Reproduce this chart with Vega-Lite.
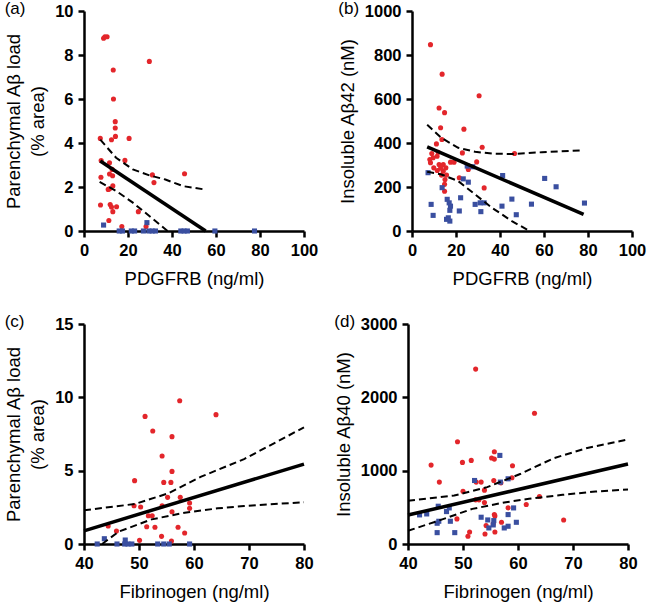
{
  "$schema": "https://vega.github.io/schema/vega-lite/v6.json",
  "padding": {"left": 4, "top": 0, "right": 5, "bottom": 5},
  "background": "white",
  "datasets": {
    "a_pts": [
      {"g":"red","x":8.9,"y":8.76},{"g":"red","x":9.5,"y":8.83},{"g":"red","x":10.5,"y":8.83},{"g":"red","x":29.7,"y":7.71},
      {"g":"red","x":13.3,"y":7.32},{"g":"red","x":13.4,"y":6.0},{"g":"red","x":14.2,"y":4.97},{"g":"red","x":14.2,"y":4.68},
      {"g":"red","x":14.3,"y":4.3},{"g":"red","x":12.5,"y":4.15},{"g":"red","x":7.4,"y":4.21},{"g":"red","x":20.5,"y":4.21},
      {"g":"red","x":7.8,"y":3.2},{"g":"red","x":18.6,"y":3.21},{"g":"red","x":11.6,"y":3.1},{"g":"red","x":12.8,"y":2.8},
      {"g":"red","x":11.6,"y":2.59},{"g":"red","x":13.0,"y":2.51},{"g":"red","x":31.1,"y":2.55},{"g":"red","x":45.7,"y":2.6},
      {"g":"red","x":31.8,"y":2.2},{"g":"red","x":7.7,"y":2.44},{"g":"red","x":13.1,"y":2.05},{"g":"red","x":11.6,"y":1.92},
      {"g":"red","x":11.0,"y":1.89},{"g":"red","x":7.5,"y":1.18},{"g":"red","x":11.9,"y":1.2},{"g":"red","x":12.5,"y":1.09},
      {"g":"red","x":14.8,"y":1.1},{"g":"red","x":13.1,"y":0.88},{"g":"red","x":24.7,"y":0.88},{"g":"red","x":11.3,"y":0.48},
      {"g":"red","x":17.2,"y":0.2},{"g":"red","x":28.2,"y":0.2},
      {"g":"blue","x":8.9,"y":0.27},{"g":"blue","x":28.6,"y":0.38},{"g":"blue","x":16,"y":0},{"g":"blue","x":17.5,"y":0},
      {"g":"blue","x":21.5,"y":0},{"g":"blue","x":23,"y":0},{"g":"blue","x":27,"y":0},{"g":"blue","x":29.5,"y":0},
      {"g":"blue","x":31,"y":0},{"g":"blue","x":32.5,"y":0},{"g":"blue","x":44,"y":0},{"g":"blue","x":45.5,"y":0},
      {"g":"blue","x":47,"y":0},{"g":"blue","x":59.5,"y":0},{"g":"blue","x":77.5,"y":0}
    ],
    "a_lines": [
      {"s":"fit","x":7.4,"y":3.18},{"s":"fit","x":55.3,"y":0},
      {"s":"upper","x":7.4,"y":4.15},{"s":"upper","x":14.6,"y":3.33},{"s":"upper","x":22.2,"y":2.8},{"s":"upper","x":29.7,"y":2.53},
      {"s":"upper","x":37,"y":2.34},{"s":"upper","x":45,"y":2.04},{"s":"upper","x":54.7,"y":1.89},
      {"s":"lower","x":7.1,"y":2.23},{"s":"lower","x":14.6,"y":1.82},{"s":"lower","x":22.2,"y":1.29},{"s":"lower","x":29.7,"y":0.68},
      {"s":"lower","x":38,"y":0}
    ],
    "b_pts": [
      {"g":"red","x":8.4,"y":847},{"g":"red","x":13.7,"y":713},{"g":"red","x":30.5,"y":615},{"g":"red","x":12.3,"y":559},
      {"g":"red","x":14.8,"y":538},{"g":"red","x":13.0,"y":469},{"g":"red","x":23.6,"y":463},{"g":"red","x":13.6,"y":416},
      {"g":"red","x":11.1,"y":396},{"g":"red","x":31.9,"y":381},{"g":"red","x":22.9,"y":355},{"g":"red","x":9.0,"y":352},
      {"g":"red","x":11.9,"y":358},{"g":"red","x":9.6,"y":333},{"g":"red","x":11.4,"y":340},{"g":"red","x":8.1,"y":325},
      {"g":"red","x":8.4,"y":310},{"g":"red","x":12.3,"y":302},{"g":"red","x":14.2,"y":302},{"g":"red","x":15.4,"y":287},
      {"g":"red","x":9.9,"y":287},{"g":"red","x":17.5,"y":313},{"g":"red","x":19.1,"y":313},{"g":"red","x":29.4,"y":314},
      {"g":"red","x":13.4,"y":254},{"g":"red","x":15.7,"y":254},{"g":"red","x":14.2,"y":272},{"g":"red","x":15.0,"y":234},
      {"g":"red","x":14.8,"y":212},{"g":"red","x":14.8,"y":181},{"g":"red","x":21.5,"y":242},{"g":"red","x":32.8,"y":196},
      {"g":"red","x":46.6,"y":352},{"g":"red","x":25.6,"y":280},{"g":"red","x":11.5,"y":275},{"g":"red","x":13.0,"y":285},
      {"g":"blue","x":7.3,"y":265},{"g":"blue","x":13.7,"y":197},{"g":"blue","x":25.1,"y":295},{"g":"blue","x":27.6,"y":292},
      {"g":"blue","x":23.3,"y":237},{"g":"blue","x":25.6,"y":222},{"g":"blue","x":16.0,"y":144},{"g":"blue","x":16.9,"y":128},
      {"g":"blue","x":17.5,"y":113},{"g":"blue","x":17.2,"y":94},{"g":"blue","x":15.7,"y":53},{"g":"blue","x":17.2,"y":45},
      {"g":"blue","x":8.7,"y":121},{"g":"blue","x":9.6,"y":71},{"g":"blue","x":22.1,"y":151},{"g":"blue","x":21.5,"y":91},
      {"g":"blue","x":28.7,"y":121},{"g":"blue","x":31.0,"y":128},{"g":"blue","x":32.8,"y":128},{"g":"blue","x":31.3,"y":88},
      {"g":"blue","x":41.2,"y":252},{"g":"blue","x":45.4,"y":145},{"g":"blue","x":40.9,"y":113},{"g":"blue","x":47.4,"y":74},
      {"g":"blue","x":54.3,"y":122},{"g":"blue","x":60.3,"y":239},{"g":"blue","x":65.5,"y":201},{"g":"blue","x":78.4,"y":127},
      {"g":"blue","x":16.5,"y":60}
    ],
    "b_lines": [
      {"s":"fit","x":6.9,"y":382},{"s":"fit","x":78,"y":76},
      {"s":"upper","x":6.9,"y":483},{"s":"upper","x":13.4,"y":423},{"s":"upper","x":21,"y":378},{"s":"upper","x":28.7,"y":360},
      {"s":"upper","x":36.3,"y":352},{"s":"upper","x":45.4,"y":350},{"s":"upper","x":59.1,"y":358},{"s":"upper","x":77.4,"y":367},
      {"s":"lower","x":6.9,"y":269},{"s":"lower","x":13.4,"y":257},{"s":"lower","x":21,"y":227},{"s":"lower","x":28.7,"y":166},
      {"s":"lower","x":36.3,"y":106},{"s":"lower","x":45.4,"y":45},{"s":"lower","x":53.4,"y":0}
    ],
    "c_pts": [
      {"g":"red","x":57.4,"y":9.77},{"g":"red","x":51.1,"y":8.70},{"g":"red","x":64.0,"y":8.82},{"g":"red","x":52.5,"y":7.70},
      {"g":"red","x":56.0,"y":7.32},{"g":"red","x":54.2,"y":6.0},{"g":"red","x":56.0,"y":4.95},{"g":"red","x":49.2,"y":4.32},
      {"g":"red","x":54.5,"y":4.2},{"g":"red","x":55.8,"y":4.2},{"g":"red","x":57.5,"y":3.18},{"g":"red","x":55.2,"y":3.18},
      {"g":"red","x":49.1,"y":2.61},{"g":"red","x":50.3,"y":2.52},{"g":"red","x":54.2,"y":2.61},{"g":"red","x":59.2,"y":2.8},
      {"g":"red","x":59.2,"y":2.43},{"g":"red","x":51.7,"y":1.93},{"g":"red","x":52.4,"y":1.93},{"g":"red","x":56.0,"y":2.2},
      {"g":"red","x":44.4,"y":1.23},{"g":"red","x":51.4,"y":1.18},{"g":"red","x":52.9,"y":1.14},{"g":"red","x":57.1,"y":1.14},
      {"g":"red","x":58.3,"y":0.75},{"g":"red","x":45.9,"y":0.89},{"g":"red","x":54.1,"y":0.52},{"g":"red","x":50.1,"y":0.25},
      {"g":"red","x":55.9,"y":0.2},
      {"g":"blue","x":42.4,"y":0},{"g":"blue","x":46.0,"y":0},{"g":"blue","x":47.4,"y":0},{"g":"blue","x":48.0,"y":0},
      {"g":"blue","x":48.7,"y":0},{"g":"blue","x":53.4,"y":0},{"g":"blue","x":54.5,"y":0},{"g":"blue","x":55.5,"y":0},
      {"g":"blue","x":59.2,"y":0},{"g":"blue","x":43.7,"y":0.36},{"g":"blue","x":47.5,"y":0.27}
    ],
    "c_lines": [
      {"s":"fit","x":40,"y":0.9},{"s":"fit","x":80,"y":5.45},
      {"s":"upper","x":40,"y":2.3},{"s":"upper","x":49.3,"y":2.73},{"s":"upper","x":55.3,"y":3.45},{"s":"upper","x":61.3,"y":4.59},
      {"s":"upper","x":69.1,"y":5.79},{"s":"upper","x":80,"y":7.95},
      {"s":"lower","x":43.3,"y":0},{"s":"lower","x":46.3,"y":0.84},{"s":"lower","x":52.3,"y":1.68},{"s":"lower","x":58.3,"y":2.13},
      {"s":"lower","x":64.3,"y":2.43},{"s":"lower","x":69.1,"y":2.59},{"s":"lower","x":80,"y":2.85}
    ],
    "d_pts": [
      {"g":"red","x":52.3,"y":2385},{"g":"red","x":63.0,"y":1783},{"g":"red","x":49.0,"y":1395},{"g":"red","x":55.7,"y":1258},
      {"g":"red","x":44.2,"y":1076},{"g":"red","x":49.9,"y":1113},{"g":"red","x":51.5,"y":1140},{"g":"red","x":55.2,"y":1172},
      {"g":"red","x":55.7,"y":1158},{"g":"red","x":59.0,"y":1067},{"g":"red","x":45.7,"y":844},{"g":"red","x":52.4,"y":844},
      {"g":"red","x":53.3,"y":844},{"g":"red","x":55.6,"y":866},{"g":"red","x":56.9,"y":834},{"g":"red","x":58.9,"y":903},
      {"g":"red","x":50.0,"y":720},{"g":"red","x":53.9,"y":734},{"g":"red","x":52.3,"y":602},{"g":"red","x":52.9,"y":602},
      {"g":"red","x":53.9,"y":565},{"g":"red","x":58.2,"y":492},{"g":"red","x":61.5,"y":538},{"g":"red","x":63.9,"y":648},
      {"g":"red","x":68.3,"y":328},{"g":"red","x":48.9,"y":342},{"g":"red","x":55.7,"y":401},{"g":"red","x":55.8,"y":383},
      {"g":"red","x":54.2,"y":251},{"g":"red","x":55.5,"y":274},{"g":"red","x":57.0,"y":296},{"g":"red","x":55.8,"y":164},
      {"g":"red","x":51.2,"y":164},{"g":"red","x":50.9,"y":105},{"g":"red","x":54.0,"y":137},
      {"g":"blue","x":42.1,"y":397},{"g":"blue","x":43.4,"y":410},{"g":"blue","x":45.5,"y":515},{"g":"blue","x":45.3,"y":283},
      {"g":"blue","x":45.6,"y":310},{"g":"blue","x":45.3,"y":155},{"g":"blue","x":47.7,"y":310},{"g":"blue","x":47.0,"y":442},
      {"g":"blue","x":47.5,"y":492},{"g":"blue","x":48.5,"y":155},{"g":"blue","x":52.1,"y":866},{"g":"blue","x":53.3,"y":365},
      {"g":"blue","x":54.5,"y":328},{"g":"blue","x":54.7,"y":219},{"g":"blue","x":55.5,"y":260},{"g":"blue","x":55.6,"y":319},
      {"g":"blue","x":56.7,"y":1208},{"g":"blue","x":56.8,"y":844},{"g":"blue","x":58.2,"y":889},{"g":"blue","x":58.2,"y":401},
      {"g":"blue","x":57.5,"y":219},{"g":"blue","x":58.2,"y":242},{"g":"blue","x":59.2,"y":492},{"g":"blue","x":59.7,"y":296}
    ],
    "d_lines": [
      {"s":"fit","x":40,"y":395},{"s":"fit","x":80,"y":1090},
      {"s":"upper","x":40,"y":590},{"s":"upper","x":48.4,"y":661},{"s":"upper","x":54.4,"y":775},{"s":"upper","x":60.5,"y":958},
      {"s":"upper","x":66.5,"y":1170},{"s":"upper","x":72.6,"y":1310},{"s":"upper","x":80,"y":1425},
      {"s":"lower","x":40,"y":180},{"s":"lower","x":45.6,"y":319},{"s":"lower","x":51.7,"y":479},{"s":"lower","x":57.8,"y":570},
      {"s":"lower","x":62,"y":616},{"s":"lower","x":68.1,"y":670},{"s":"lower","x":74.1,"y":715},{"s":"lower","x":80,"y":743}
    ]
  },
  "vconcat": [
    {
      "hconcat": [
        {
          "width": 220, "height": 220,
          "title": {"text": "(a)", "dy": 19},
          "layer": [
            {"data": {"name": "a_pts"}, "mark": {"type": "point", "filled": true, "opacity": 1, "size": 26},
             "encoding": {
               "x": {"field": "x", "type": "quantitative", "scale": {"domain": [0, 100], "nice": false}, "axis": {"values": [0, 20, 40, 60, 80, 100], "title": "PDGFRB (ng/ml)"}},
               "y": {"field": "y", "type": "quantitative", "scale": {"domain": [0, 10], "nice": false}, "axis": {"values": [0, 2, 4, 6, 8, 10], "title": ["Parenchymal Aβ load", "(% area)"]}},
               "color": {"field": "g", "type": "nominal", "scale": {"domain": ["red", "blue"], "range": ["#e3262b", "#3a4fa0"]}, "legend": null},
               "shape": {"field": "g", "type": "nominal", "scale": {"domain": ["red", "blue"], "range": ["circle", "square"]}, "legend": null}}},
            {"data": {"name": "a_lines"}, "transform": [{"filter": "datum.s == 'fit'"}], "mark": {"type": "line", "color": "black", "strokeWidth": 3.5},
             "encoding": {"x": {"field": "x", "type": "quantitative"}, "y": {"field": "y", "type": "quantitative"}}},
            {"data": {"name": "a_lines"}, "transform": [{"filter": "datum.s != 'fit'"}], "mark": {"type": "line", "color": "black", "strokeWidth": 2, "strokeDash": [7, 4]},
             "encoding": {"x": {"field": "x", "type": "quantitative"}, "y": {"field": "y", "type": "quantitative"}, "detail": {"field": "s"}}}
          ]
        },
        {
          "width": 220, "height": 220,
          "title": {"text": "(b)", "dy": 19},
          "layer": [
            {"data": {"name": "b_pts"}, "mark": {"type": "point", "filled": true, "opacity": 1, "size": 26},
             "encoding": {
               "x": {"field": "x", "type": "quantitative", "scale": {"domain": [0, 100], "nice": false}, "axis": {"values": [0, 20, 40, 60, 80, 100], "title": "PDGFRB (ng/ml)"}},
               "y": {"field": "y", "type": "quantitative", "scale": {"domain": [0, 1000], "nice": false}, "axis": {"values": [0, 200, 400, 600, 800, 1000], "title": "Insoluble Aβ42 (nM)", "format": "d"}},
               "color": {"field": "g", "type": "nominal", "scale": {"domain": ["red", "blue"], "range": ["#e3262b", "#3a4fa0"]}, "legend": null},
               "shape": {"field": "g", "type": "nominal", "scale": {"domain": ["red", "blue"], "range": ["circle", "square"]}, "legend": null}}},
            {"data": {"name": "b_lines"}, "transform": [{"filter": "datum.s == 'fit'"}], "mark": {"type": "line", "color": "black", "strokeWidth": 3.5},
             "encoding": {"x": {"field": "x", "type": "quantitative"}, "y": {"field": "y", "type": "quantitative"}}},
            {"data": {"name": "b_lines"}, "transform": [{"filter": "datum.s != 'fit'"}], "mark": {"type": "line", "color": "black", "strokeWidth": 2, "strokeDash": [7, 4]},
             "encoding": {"x": {"field": "x", "type": "quantitative"}, "y": {"field": "y", "type": "quantitative"}, "detail": {"field": "s"}}}
          ]
        }
      ]
    },
    {
      "hconcat": [
        {
          "width": 220, "height": 220,
          "title": {"text": "(c)", "dy": 19},
          "layer": [
            {"data": {"name": "c_pts"}, "mark": {"type": "point", "filled": true, "opacity": 1, "size": 26},
             "encoding": {
               "x": {"field": "x", "type": "quantitative", "scale": {"domain": [40, 80], "nice": false}, "axis": {"values": [40, 50, 60, 70, 80], "title": "Fibrinogen (ng/ml)"}},
               "y": {"field": "y", "type": "quantitative", "scale": {"domain": [0, 15], "nice": false}, "axis": {"values": [0, 5, 10, 15], "title": ["Parenchymal Aβ load", "(% area)"]}},
               "color": {"field": "g", "type": "nominal", "scale": {"domain": ["red", "blue"], "range": ["#e3262b", "#3a4fa0"]}, "legend": null},
               "shape": {"field": "g", "type": "nominal", "scale": {"domain": ["red", "blue"], "range": ["circle", "square"]}, "legend": null}}},
            {"data": {"name": "c_lines"}, "transform": [{"filter": "datum.s == 'fit'"}], "mark": {"type": "line", "color": "black", "strokeWidth": 3.5},
             "encoding": {"x": {"field": "x", "type": "quantitative"}, "y": {"field": "y", "type": "quantitative"}}},
            {"data": {"name": "c_lines"}, "transform": [{"filter": "datum.s != 'fit'"}], "mark": {"type": "line", "color": "black", "strokeWidth": 2, "strokeDash": [7, 4]},
             "encoding": {"x": {"field": "x", "type": "quantitative"}, "y": {"field": "y", "type": "quantitative"}, "detail": {"field": "s"}}}
          ]
        },
        {
          "width": 220, "height": 220,
          "title": {"text": "(d)", "dy": 19},
          "layer": [
            {"data": {"name": "d_pts"}, "mark": {"type": "point", "filled": true, "opacity": 1, "size": 26},
             "encoding": {
               "x": {"field": "x", "type": "quantitative", "scale": {"domain": [40, 80], "nice": false}, "axis": {"values": [40, 50, 60, 70, 80], "title": "Fibrinogen (ng/ml)"}},
               "y": {"field": "y", "type": "quantitative", "scale": {"domain": [0, 3000], "nice": false}, "axis": {"values": [0, 1000, 2000, 3000], "title": "Insoluble Aβ40 (nM)", "format": "d"}},
               "color": {"field": "g", "type": "nominal", "scale": {"domain": ["red", "blue"], "range": ["#e3262b", "#3a4fa0"]}, "legend": null},
               "shape": {"field": "g", "type": "nominal", "scale": {"domain": ["red", "blue"], "range": ["circle", "square"]}, "legend": null}}},
            {"data": {"name": "d_lines"}, "transform": [{"filter": "datum.s == 'fit'"}], "mark": {"type": "line", "color": "black", "strokeWidth": 3.5},
             "encoding": {"x": {"field": "x", "type": "quantitative"}, "y": {"field": "y", "type": "quantitative"}}},
            {"data": {"name": "d_lines"}, "transform": [{"filter": "datum.s != 'fit'"}], "mark": {"type": "line", "color": "black", "strokeWidth": 2, "strokeDash": [7, 4]},
             "encoding": {"x": {"field": "x", "type": "quantitative"}, "y": {"field": "y", "type": "quantitative"}, "detail": {"field": "s"}}}
          ]
        }
      ]
    }
  ],
  "spacing": 25,
  "config": {
    "view": {"stroke": null},
    "concat": {"spacing": 20},
    "axis": {
      "grid": false, "domainColor": "black", "domainWidth": 2.5, "tickColor": "black", "tickWidth": 2.5, "tickSize": 6,
      "labelFont": "Liberation Sans", "labelFontSize": 16.5, "labelFontWeight": "bold", "labelColor": "black", "labelPadding": 5,
      "labelFlush": false, "labelOverlap": false,
      "titleFont": "Liberation Sans", "titleFontSize": 18.5, "titleFontWeight": "normal", "titleColor": "black", "titleLineHeight": 24
    },
    "axisX": {"titlePadding": 11},
    "axisY": {"titlePadding": 7},
    "title": {"font": "Liberation Sans", "fontSize": 17, "fontWeight": "normal", "anchor": "start", "frame": "bounds", "color": "black", "offset": 0}
  }
}
